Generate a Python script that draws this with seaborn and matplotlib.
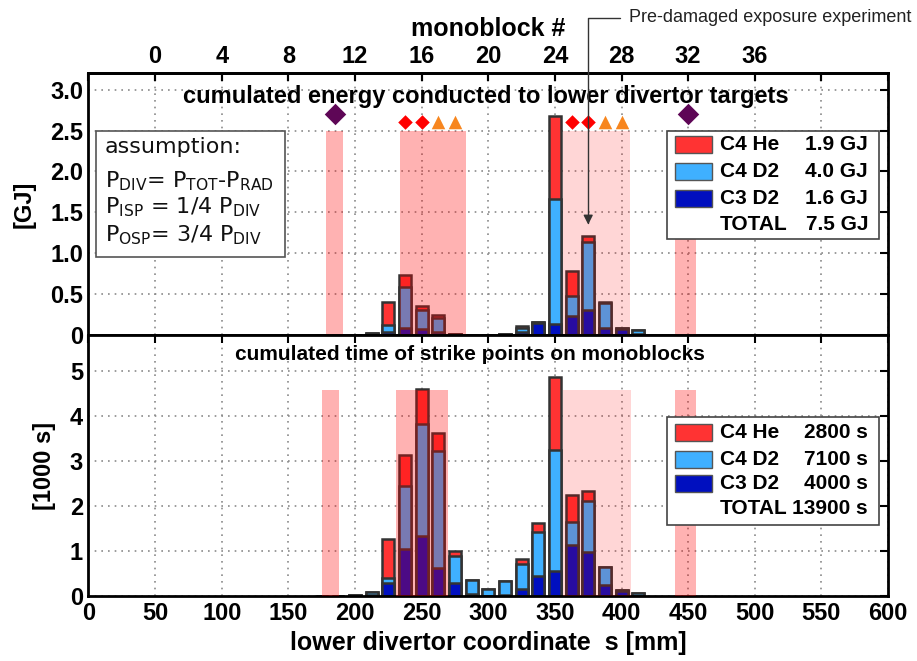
import numpy as np
import pandas as pd
import matplotlib
matplotlib.use("Agg")
import matplotlib.pyplot as plt
import seaborn as sns
from matplotlib.patches import Rectangle

# ---- data -----------------------------------------------------------------
monoblock = [10, 11, 12, 13, 14, 15, 16, 17, 18, 19, 20, 21, 22, 23, 24, 25, 26, 27, 28, 29]

# cumulated energy per monoblock [GJ]
energy_c3_d2 = [0, 0, 0, 0.01, 0.035, 0.09, 0.07, 0.035, 0.01, 0, 0, 0.01, 0.04, 0.15, 0.13, 0.23, 0.31, 0.08, 0.07, 0.01]
energy_c4_d2 = [0, 0, 0, 0.01, 0.085, 0.50, 0.23, 0.175, 0.005, 0, 0, 0, 0.04, 0.01, 1.53, 0.25, 0.83, 0.31, 0.01, 0.05]
energy_c4_he = [0, 0, 0, 0, 0.28, 0.14, 0.06, 0.03, 0, 0, 0, 0, 0.03, 0, 1.02, 0.30, 0.07, 0.01, 0, 0]

# cumulated strike point time per monoblock [1000 s]
time_c3_d2 = [0.01, 0.02, 0.03, 0.04, 0.29, 1.05, 1.35, 0.63, 0.31, 0.05, 0.02, 0.04, 0.17, 0.46, 0.57, 1.15, 0.98, 0.26, 0.12, 0.02]
time_c4_d2 = [0, 0, 0, 0.05, 0.11, 1.41, 2.48, 2.60, 0.59, 0.32, 0.15, 0.30, 0.55, 0.97, 2.69, 0.50, 1.14, 0.40, 0.02, 0.05]
time_c4_he = [0, 0, 0, 0, 0.88, 0.68, 0.78, 0.40, 0.10, 0, 0, 0, 0.11, 0.19, 1.60, 0.61, 0.23, 0, 0, 0]

series_names = ["C4 He", "C4 D2", "C3 D2"]
series_colors = ["#ff3333", "#3fb0ff", "#000fbf"]
energy_totals = ["1.9 GJ", "4.0 GJ", "1.6 GJ", "7.5 GJ"]
time_totals = ["2800 s", "7100 s", "4000 s", "13900 s"]

# shaded monoblock ranges along s [mm]
energy_spans_strong = [(178, 191), (234, 283), (440, 456)]
energy_spans_light = [(356, 406)]
time_spans_strong = [(175, 188), (231, 270), (440, 456)]
time_spans_light = [(356, 407)]
energy_span_top = 2.5
time_span_top = 4.57

# markers above the energy bars (s [mm], GJ)
purple_s = [185, 450]
purple_y = [2.70, 2.70]
red_s = [237.5, 250, 362.5, 375]
red_y = [2.60, 2.60, 2.60, 2.60]
orange_s = [262.5, 275, 387.5, 400]
orange_y = [2.60, 2.60, 2.60, 2.60]

arrow_s = 375
arrow_y = 1.35

# monoblock n sits at s = 50 mm + 12.5 mm * n
S0, PITCH = 50.0, 12.5
s_pos = [S0 + PITCH * m for m in monoblock]

# ---- style ----------------------------------------------------------------
sns.set_theme(style="white")
plt.rcParams["font.family"] = ["Liberation Sans", "DejaVu Sans"]
plt.rcParams["mathtext.fontset"] = "dejavusans"
plt.rcParams["axes.linewidth"] = 2.0
for key in ["text.color", "axes.labelcolor", "xtick.color", "ytick.color", "axes.edgecolor"]:
    plt.rcParams[key] = "black"

fig = plt.figure(figsize=(9.17, 6.61), dpi=100)
ax1 = fig.add_axes([0.0965, 0.4932, 0.8719, 0.3959])
ax2 = fig.add_axes([0.0965, 0.0976, 0.8719, 0.3956])

EDGE = "#333333"
TICK_FS = 17


def stacked_bars(ax, c3, c4d2, c4he):
    df = pd.DataFrame({"s": s_pos, "C3 D2": c3, "C4 D2": c4d2, "C4 He": c4he})
    df["lvl1"] = df["C3 D2"]
    df["lvl2"] = df["lvl1"] + df["C4 D2"]
    df["lvl3"] = df["lvl2"] + df["C4 He"]
    # draw cumulative heights from the top segment down so each layer shows its own part
    for col, color in [("lvl3", series_colors[0]), ("lvl2", series_colors[1]), ("lvl1", series_colors[2])]:
        sns.barplot(data=df, x="s", y=col, native_scale=True, width=0.72, color=color,
                    saturation=1, edgecolor=EDGE, linewidth=1.8, errorbar=None, ax=ax)


def shade(ax, spans, top, alpha):
    for x0, x1 in spans:
        ax.fill_between([x0, x1], 0, top, color="red", alpha=alpha, lw=0, zorder=4)


def key_box(ax, box, rows_y, patch_h, values):
    x0, y0, x1, y1 = box
    ax.add_patch(Rectangle((x0, y0), x1 - x0, y1 - y0, transform=ax.transAxes,
                           facecolor="white", edgecolor="#444444", lw=1.2, zorder=8))
    labels = series_names + ["TOTAL"]
    colors = series_colors + [None]
    for lab, col, val, y in zip(labels, colors, values, rows_y):
        if col is not None:
            ax.add_patch(Rectangle((0.7336, y - patch_h / 2), 0.0463, patch_h, transform=ax.transAxes,
                                   facecolor=col, edgecolor="#555555", lw=1.0, zorder=9))
        ax.text(0.7898, y, lab, transform=ax.transAxes, ha="left", va="center",
                fontsize=15, fontweight="bold", zorder=10)
        ax.text(0.975, y, val, transform=ax.transAxes, ha="right", va="center",
                fontsize=15, fontweight="bold", zorder=10)


def frame(ax, ymax, yticks, ylabels):
    ax.set_xlim(0, 600)
    ax.set_ylim(0, ymax)
    ax.set_xticks(np.arange(0, 601, 50))
    ax.set_yticks(yticks)
    ax.set_yticklabels(ylabels)
    ax.set_axisbelow(True)
    ax.grid(True, linestyle=(0, (1, 3)), color="#8a8a8a", linewidth=1.2)
    ax.tick_params(direction="in", length=6, width=1.5, top=True, right=True,
                   labelsize=TICK_FS, pad=4, colors="black")
    for lab in ax.get_xticklabels() + ax.get_yticklabels():
        lab.set_fontweight("bold")
    for sp in ax.spines.values():
        sp.set_color("black")
        sp.set_linewidth(2.0)


# ---- energy panel ------------------------------------------------------------
stacked_bars(ax1, energy_c3_d2, energy_c4_d2, energy_c4_he)
shade(ax1, energy_spans_strong, energy_span_top, 0.30)
shade(ax1, energy_spans_light, energy_span_top, 0.16)
frame(ax1, 3.2, [0, 0.5, 1.0, 1.5, 2.0, 2.5, 3.0], ["0", "0.5", "1.0", "1.5", "2.0", "2.5", "3.0"])
ax1.tick_params(labelbottom=False)
ax1.set_xlabel("")
ax1.set_ylabel("[GJ]", fontsize=17, fontweight="bold", labelpad=10)

sns.scatterplot(x=purple_s, y=purple_y, marker="D", s=120, color="#5e0656", linewidth=0, ax=ax1, zorder=6)
sns.scatterplot(x=red_s, y=red_y, marker="D", s=55, color="#ff0000", linewidth=0, ax=ax1, zorder=6)
sns.scatterplot(x=orange_s, y=orange_y, marker="^", s=95, color="#f7861f", linewidth=0, ax=ax1, zorder=6)

ax1.text(0.497, 0.913, "cumulated energy conducted to lower divertor targets", transform=ax1.transAxes,
         ha="center", va="center", fontsize=17, fontweight="bold")

# assumption box
ax1.add_patch(Rectangle((0.0094, 0.298), 0.2364, 0.483, transform=ax1.transAxes,
                        facecolor="white", edgecolor="#555555", lw=1.2, zorder=7))
assume = ["assumption:",
          r"P$_{\mathrm{DIV}}$= P$_{\mathrm{TOT}}$-P$_{\mathrm{RAD}}$",
          r"P$_{\mathrm{ISP}}$ = 1/4 P$_{\mathrm{DIV}}$",
          r"P$_{\mathrm{OSP}}$= 3/4 P$_{\mathrm{DIV}}$"]
for txt, y in zip(assume, [0.7195, 0.586, 0.489, 0.382]):
    ax1.text(0.0207, y, txt, transform=ax1.transAxes, ha="left", va="center",
             fontsize=16, family="DejaVu Sans", color="#111111", zorder=8)

key_box(ax1, (0.7236, 0.3668, 0.9887, 0.781), [0.7286, 0.6238, 0.5197, 0.4240], 0.065, energy_totals)

# monoblock axis on top
sec = ax1.secondary_xaxis("top", functions=(lambda s: (s - S0) / PITCH, lambda m: S0 + PITCH * m))
sec.set_xticks(np.arange(0, 41, 4))
sec.set_xticklabels([str(v) for v in range(0, 37, 4)] + [""])
sec.tick_params(direction="in", length=6, width=1.5, labelsize=TICK_FS, pad=4, colors="black")
for lab in sec.get_xticklabels():
    lab.set_fontweight("bold")
sec.set_xlabel("monoblock #", fontsize=18, fontweight="bold", labelpad=6)

# ---- time panel --------------------------------------------------------------
stacked_bars(ax2, time_c3_d2, time_c4_d2, time_c4_he)
shade(ax2, time_spans_strong, time_span_top, 0.30)
shade(ax2, time_spans_light, time_span_top, 0.16)
frame(ax2, 5.8, [0, 1, 2, 3, 4, 5], ["0", "1", "2", "3", "4", "5"])
ax2.set_xlabel("lower divertor coordinate  s [mm]", fontsize=18, fontweight="bold", labelpad=4)
ax2.set_ylabel("[1000 s]", fontsize=17, fontweight="bold", labelpad=10)
ax2.text(0.477, 0.9235, "cumulated time of strike points on monoblocks", transform=ax2.transAxes,
         ha="center", va="center", fontsize=15, fontweight="bold")
key_box(ax2, (0.7236, 0.2734, 0.9887, 0.6864), [0.628, 0.5239, 0.4302, 0.3346], 0.065, time_totals)

# ---- annotation ---------------------------------------------------------------
ax1.annotate("", xy=(arrow_s, arrow_y), xycoords="data",
             xytext=(620, 643), textcoords="figure pixels",
             arrowprops=dict(arrowstyle="-|>", connectionstyle="angle,angleA=0,angleB=90,rad=0",
                             color="#333333", lw=1.0, shrinkA=0, shrinkB=0, mutation_scale=14),
             annotation_clip=False, zorder=9)
fig.text(629 / 917, 644 / 661, "Pre-damaged exposure experiment", ha="left", va="center",
         fontsize=13, family=["Liberation Sans Narrow", "Liberation Sans"], color="#222222")

fig.savefig("out.png", dpi=100)
